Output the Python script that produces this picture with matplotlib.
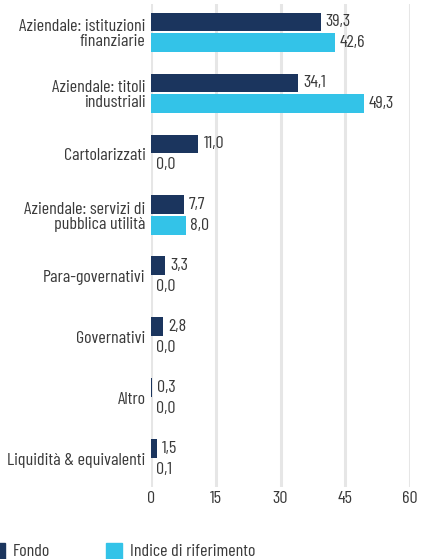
import matplotlib
matplotlib.use("Agg")
import matplotlib.pyplot as plt
from matplotlib.patches import Rectangle
import numpy as np

categories = ["Aziendale: istituzioni\nfinanziarie", "Aziendale: titoli\nindustriali",
              "Cartolarizzati", "Aziendale: servizi di\npubblica utilità",
              "Para-governativi", "Governativi", "Altro", "Liquidità & equivalenti"]
fondo = [39.3, 34.1, 11.0, 7.7, 3.3, 2.8, 0.3, 1.5]
indice = [42.6, 49.3, 0.0, 8.0, 0.0, 0.0, 0.0, 0.1]
xticks = [0, 15, 30, 45, 60]
series_names = ["Fondo", "Indice di riferimento"]

navy = "#1b355e"
cyan = "#33c3e8"
txt = "#3a3a3a"

plt.rcParams['font.family'] = ['Barlow Condensed', 'DejaVu Sans']

W, H = 421, 559
fig = plt.figure(figsize=(W / 100, H / 100), dpi=100)
ax = fig.add_axes([151 / W, 1 - 487 / H, (410 - 151) / W, (487 - 4) / H])

y = np.arange(len(categories))
h = 0.31
off = 0.165
ax.barh(y - off, fondo, height=h, color=navy, zorder=3)
ax.barh(y + off, indice, height=h, color=cyan, zorder=3)

fs = 13
for yi, v in zip(y - off, fondo):
    ax.annotate(f"{v:.1f}".replace(".", ","), (v, yi), xytext=(3.5, 0), textcoords="offset points",
                va="center", ha="left", fontsize=fs, color=txt)
for yi, v in zip(y + off, indice):
    ax.annotate(f"{v:.1f}".replace(".", ","), (v, yi), xytext=(3.5, 0), textcoords="offset points",
                va="center", ha="left", fontsize=fs, color=txt)

ax.set_xlim(0, 60)
ax.set_ylim(len(categories) - 0.54, -0.46)
ax.set_xticks(xticks)
ax.set_xticklabels([str(t) for t in xticks], fontsize=fs, color=txt)
ax.set_yticks(y)
ax.set_yticklabels(categories, fontsize=fs, color=txt, linespacing=1.05)
ax.tick_params(axis="both", length=0, pad=4)
ax.tick_params(axis="x", pad=3)
ax.grid(axis="x", color="#e6e6e6", linewidth=2.2, zorder=0)
for s in ax.spines.values():
    s.set_visible(False)

# legend
fig.patches.append(Rectangle((-11 / W, 0), 16 / W, 16 / H, transform=fig.transFigure,
                             color=navy, clip_on=False))
fig.text(13 / W, 7 / H, series_names[0], fontsize=fs, color=txt, va="center", ha="left")
fig.patches.append(Rectangle((106 / W, 0), 16 / W, 16 / H, transform=fig.transFigure,
                             color=cyan, clip_on=False))
fig.text(130 / W, 7 / H, series_names[1], fontsize=fs, color=txt, va="center", ha="left")

fig.savefig("out.png", dpi=100)
